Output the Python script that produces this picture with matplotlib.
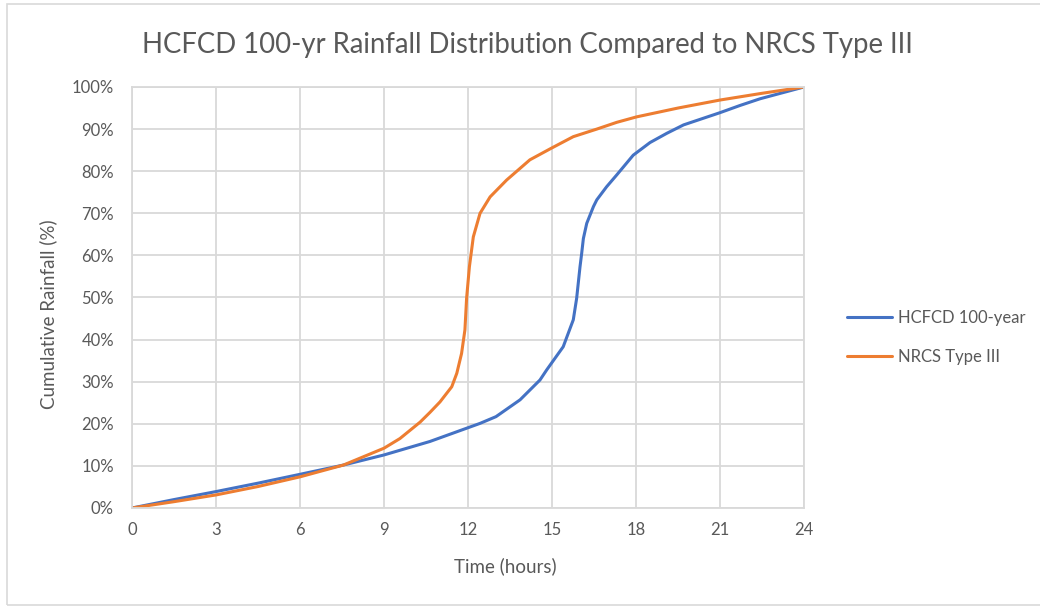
import matplotlib.pyplot as plt
from matplotlib.patches import Rectangle
from matplotlib.ticker import PercentFormatter

# ─── Data ──────────────────────────────────────────────────────────────────
hcfcd_t = [0, 1.5, 3.0, 4.5, 6.0, 7.55, 9.0, 10.64, 12.43, 13.0, 13.86,
           14.57, 14.81, 15.4, 15.76, 15.88, 16.0, 16.06, 16.12, 16.24, 16.48,
           16.6, 16.95, 17.31, 17.9, 18.5, 19.1, 19.7, 21.0, 21.71, 22.43, 24.0]
hcfcd_pct = [0, 2.0, 3.9, 5.9, 8.0, 10.2, 12.6, 15.8, 20.1, 21.7, 25.7,
             30.4, 32.8, 38.3, 44.7, 49.8, 57.3, 60.5, 64.0, 67.6, 71.6,
             73.2, 76.3, 79.1, 83.8, 86.8, 89.0, 91.0, 93.9, 95.6, 97.2, 100]

nrcs_t = [0, 1.5, 3.0, 4.5, 6.0, 7.55, 9.0, 9.57, 10.29, 10.64, 11.0, 11.42,
          11.6, 11.77, 11.89, 11.95, 12.05, 12.19, 12.43, 12.79, 13.38, 14.21,
          14.96, 15.76, 16.6, 17.31, 18.02, 19.5, 21.0, 22.5, 24.0]
nrcs_pct = [0, 1.5, 3.1, 5.1, 7.4, 10.2, 14.2, 16.5, 20.4, 22.7, 25.2, 28.8,
            32.0, 36.7, 42.3, 49.8, 57.3, 64.4, 70.0, 73.9, 77.9, 82.7,
            85.4, 88.2, 90.0, 91.6, 92.9, 95.0, 96.9, 98.5, 100]

x_ticks = list(range(0, 25, 3))
y_ticks = list(range(0, 101, 10))

BLUE = "#4472C4"
ORANGE = "#ED7D31"
TEXT = "#595959"
GRID = "#D9D9D9"

plt.rcParams.update({
    "font.family": ["Lato", "DejaVu Sans"],
    "font.size": 12,
})

fig = plt.figure(figsize=(10.4, 6.07), dpi=100)
ax = fig.add_axes([0.1269, 0.1631, 0.6462, 0.6936])

ax.plot(hcfcd_t, hcfcd_pct, color=BLUE, linewidth=2.2, label="HCFCD 100-year",
        solid_capstyle="round", solid_joinstyle="round")
ax.plot(nrcs_t, nrcs_pct, color=ORANGE, linewidth=2.2, label="NRCS Type III",
        solid_capstyle="round", solid_joinstyle="round")

ax.set_xlim(0, 24)
ax.set_ylim(0, 100)
ax.set_xticks(x_ticks)
ax.set_yticks(y_ticks)
ax.yaxis.set_major_formatter(PercentFormatter(decimals=0))
ax.grid(True, color=GRID, linewidth=1.3)
ax.set_axisbelow(True)
for s in ax.spines.values():
    s.set_color(GRID)
    s.set_linewidth(1.3)
ax.tick_params(length=0, colors=TEXT, labelsize=12)
ax.tick_params(axis="y", pad=13)
ax.tick_params(axis="x", pad=10)

fig.text(0.4861, 1 - 566 / 607, "Time (hours)", color=TEXT, fontsize=13.5,
         ha="center", va="center")
fig.text(48 / 1040, 1 - 314 / 607, "Cumulative Rainfall (%)", color=TEXT,
         fontsize=13.5, ha="center", va="center", rotation=90)

fig.text(0.507, 1 - 45 / 607,
         "HCFCD 100-yr Rainfall Distribution Compared to NRCS Type III",
         fontsize=19.8, color=TEXT, ha="center", va="center")

leg = ax.legend(loc="center left", bbox_to_anchor=(1.052, 0.405), frameon=False,
                borderpad=0, handlelength=2.7, handletextpad=0.35,
                labelspacing=1.4, fontsize=12)
for t in leg.get_texts():
    t.set_color(TEXT)

# chart area border
fig.patches.append(Rectangle((0.007, 0.003), 1.2, 0.99, transform=fig.transFigure,
                             fill=False, edgecolor=GRID, linewidth=1.2))

fig.savefig("out.png", dpi=100)
